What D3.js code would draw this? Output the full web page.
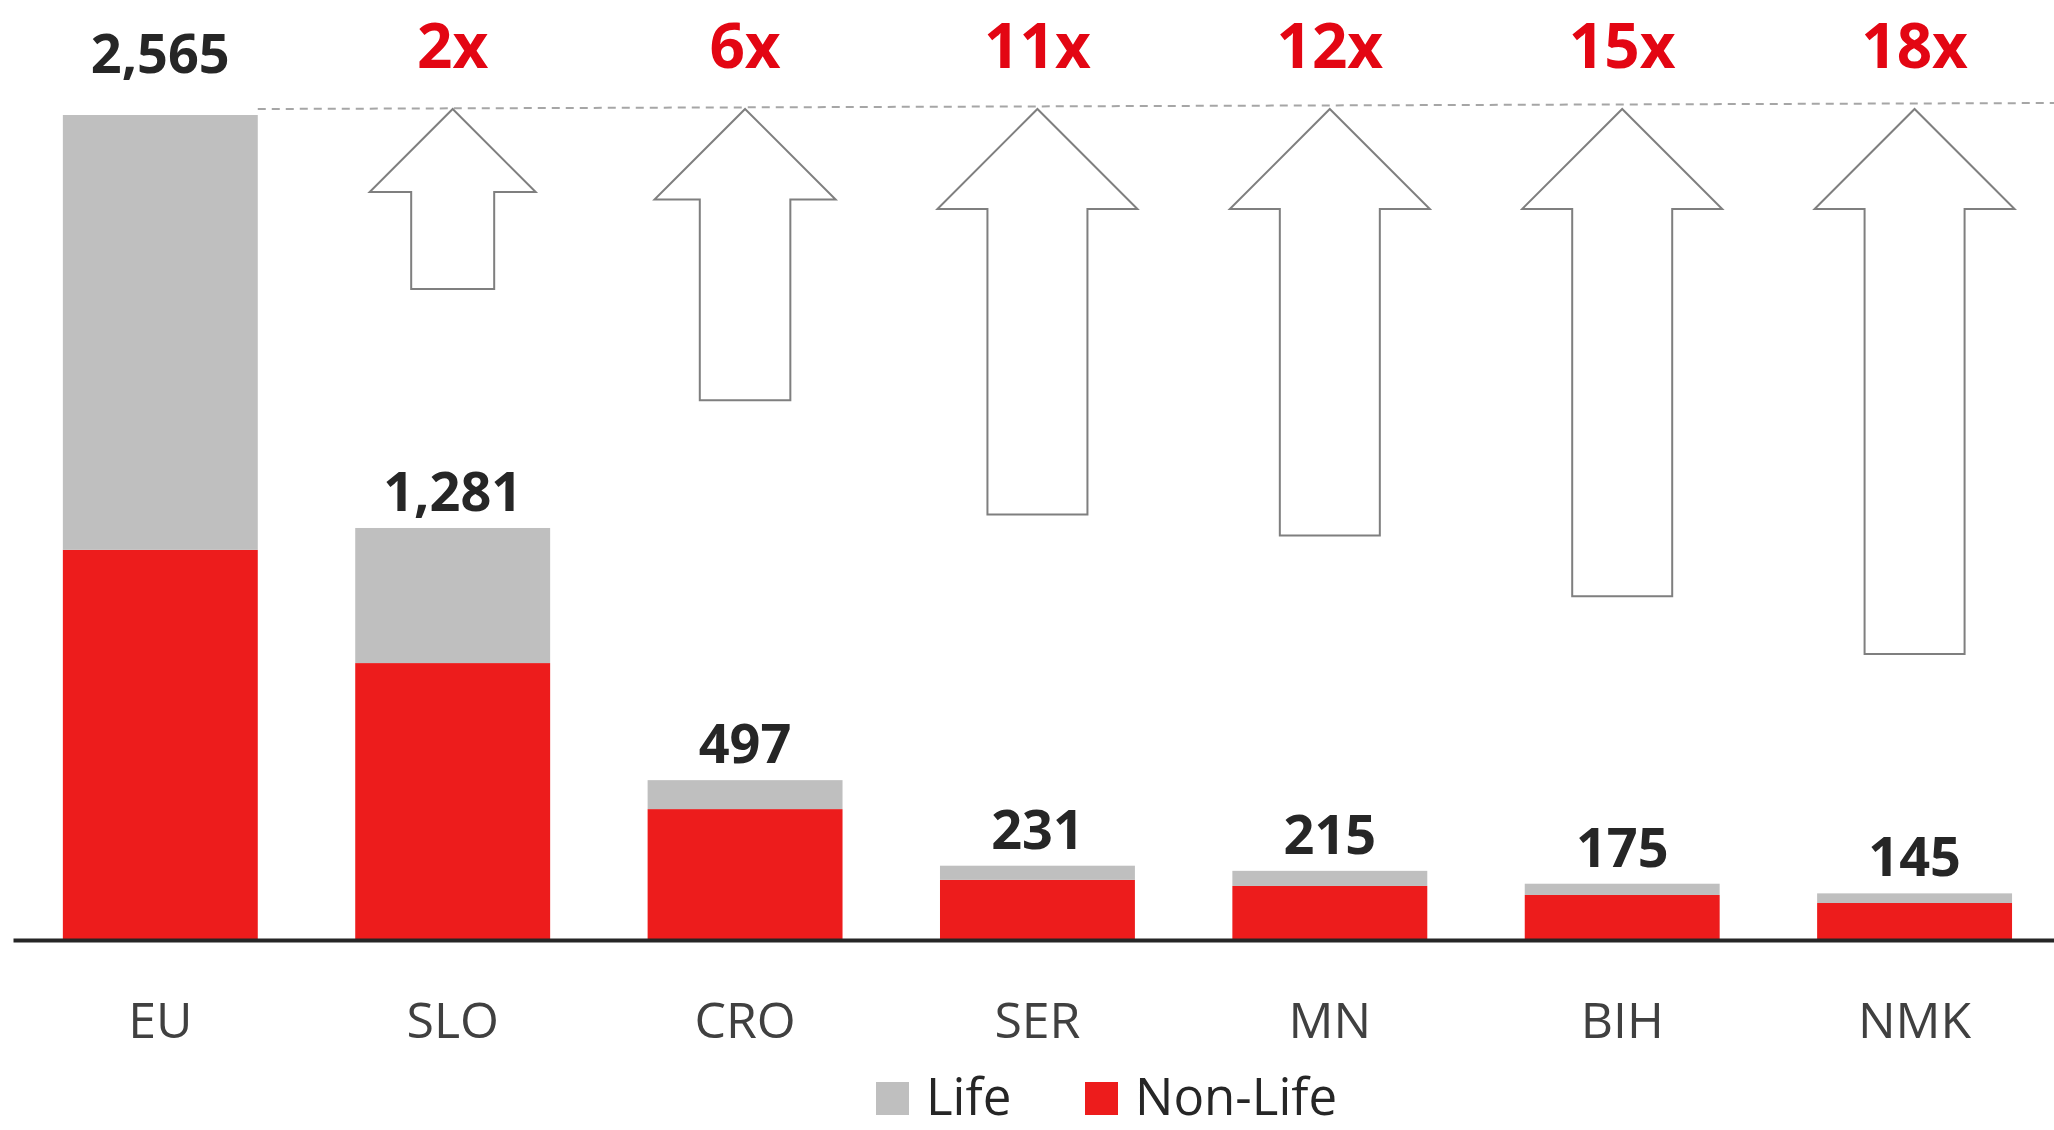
<!DOCTYPE html>
<html>
<head>
<meta charset="utf-8">
<script src="https://cdn.jsdelivr.net/npm/d3@7"></script>
<style>
  html, body { margin: 0; padding: 0; background: #fff; }
  svg { display: block; font-family: "Open Sans", sans-serif; }
</style>
</head>
<body>
<svg id="chart" width="2054" height="1130"></svg>
<script>
const categories = ["EU", "SLO", "CRO", "SER", "MN", "BIH", "NMK"];
const nonLife = [1213, 861, 407, 187, 168, 140, 115];
const life = [1352, 420, 90, 44, 47, 35, 30];
const multiples = [null, 2, 6, 11, 12, 15, 18];
const seriesNames = ["Life", "Non-Life"];

const colors = { "Life": "#bfbfbf", "Non-Life": "#ed1c1c" };

const svg = d3.select("#chart"),
  width = +svg.attr("width"),
  baseY = 940;

// rows for stacking
const rows = categories.map((c, i) => ({
  cat: c,
  "Non-Life": nonLife[i],
  "Life": life[i],
  total: nonLife[i] + life[i],
  mult: multiples[i],
}));

const x = d3
  .scaleBand()
  .domain(categories)
  .range([13, width])
  .paddingInner(1 / 3)
  .paddingOuter(0.157)
  .align(0.543);

const y = d3
  .scaleLinear()
  .domain([0, d3.max(rows, (d) => d.total)])
  .range([baseY, 115]);

// stacked bars, non-life at the bottom
const stack = d3.stack().keys(["Non-Life", "Life"])(rows);

svg
  .append("g")
  .selectAll("g")
  .data(stack)
  .join("g")
  .attr("fill", (s) => colors[s.key])
  .selectAll("rect")
  .data((s) => s)
  .join("rect")
  .attr("x", (d) => x(d.data.cat))
  .attr("width", x.bandwidth())
  .attr("y", (d) => y(d[1]))
  .attr("height", (d) => y(d[0]) - y(d[1]));

// dashed reference line from the EU top
const euRight = x("EU") + x.bandwidth();
const dashY = y(rows[0].total) - 6;
svg
  .append("line")
  .attr("x1", euRight)
  .attr("x2", width)
  .attr("y1", dashY)
  .attr("y2", dashY - 6)
  .attr("stroke", "#a6a6a6")
  .attr("stroke-width", 2)
  .attr("stroke-dasharray", "8,6");

// outlined arrows showing the multiple
const arrowLen = d3.scalePow().exponent(0.75).domain([2, 18]).range([180, 545]);
const headK = d3.scaleLinear().domain([2, 11]).range([0.83, 1]).clamp(true);
const arrowTop = 109;

function arrowPath(cx, m) {
  const k = headK(m),
    hw = 100 * k,
    sw = 50 * k,
    hh = 100 * k,
    bottom = arrowTop + arrowLen(m);
  return d3.line()([
    [cx, arrowTop],
    [cx + hw, arrowTop + hh],
    [cx + sw, arrowTop + hh],
    [cx + sw, bottom],
    [cx - sw, bottom],
    [cx - sw, arrowTop + hh],
    [cx - hw, arrowTop + hh],
  ]) + "Z";
}

const withMult = rows.filter((d) => d.mult != null);

svg
  .append("g")
  .selectAll("path")
  .data(withMult)
  .join("path")
  .attr("d", (d) => arrowPath(x(d.cat) + x.bandwidth() / 2, d.mult))
  .attr("fill", "#fff")
  .attr("stroke", "#7f7f7f")
  .attr("stroke-width", 2);

svg
  .append("g")
  .selectAll("text")
  .data(withMult)
  .join("text")
  .attr("x", (d) => x(d.cat) + x.bandwidth() / 2)
  .attr("y", 68)
  .attr("text-anchor", "middle")
  .attr("font-size", 62)
  .attr("font-weight", 700)
  .attr("fill", "#e30613")
  .text((d) => d.mult + "x");

// total labels
const fmt = d3.format(",");
svg
  .append("g")
  .selectAll("text")
  .data(rows)
  .join("text")
  .attr("x", (d) => x(d.cat) + x.bandwidth() / 2)
  .attr("y", (d) => {
    const ly = y(d.total) - 17;
    return ly < dashY + 40 ? dashY - 36 : ly;
  })
  .attr("text-anchor", "middle")
  .attr("font-size", 54)
  .attr("font-weight", 700)
  .attr("fill", "#262626")
  .text((d) => fmt(d.total));

// x axis
const axis = svg
  .append("g")
  .attr("transform", `translate(0,${baseY})`)
  .call(d3.axisBottom(x).tickSize(0).tickPadding(62));
axis.select(".domain").attr("stroke", "#262626").attr("stroke-width", 4);
axis
  .selectAll("text")
  .attr("font-family", "Open Sans, sans-serif")
  .attr("font-size", 50)
  .attr("fill", "#404040");

// legend
const legend = svg
  .append("g")
  .selectAll("g")
  .data(seriesNames)
  .join("g")
  .attr("transform", (d, i) => `translate(${i === 0 ? 876 : 1085},1082)`);
legend
  .append("rect")
  .attr("width", 33)
  .attr("height", 33)
  .attr("fill", (d) => colors[d]);
legend
  .append("text")
  .attr("x", 50)
  .attr("y", 33)
  .attr("font-size", 51)
  .attr("fill", "#262626")
  .text((d) => d);
</script>
</body>
</html>
